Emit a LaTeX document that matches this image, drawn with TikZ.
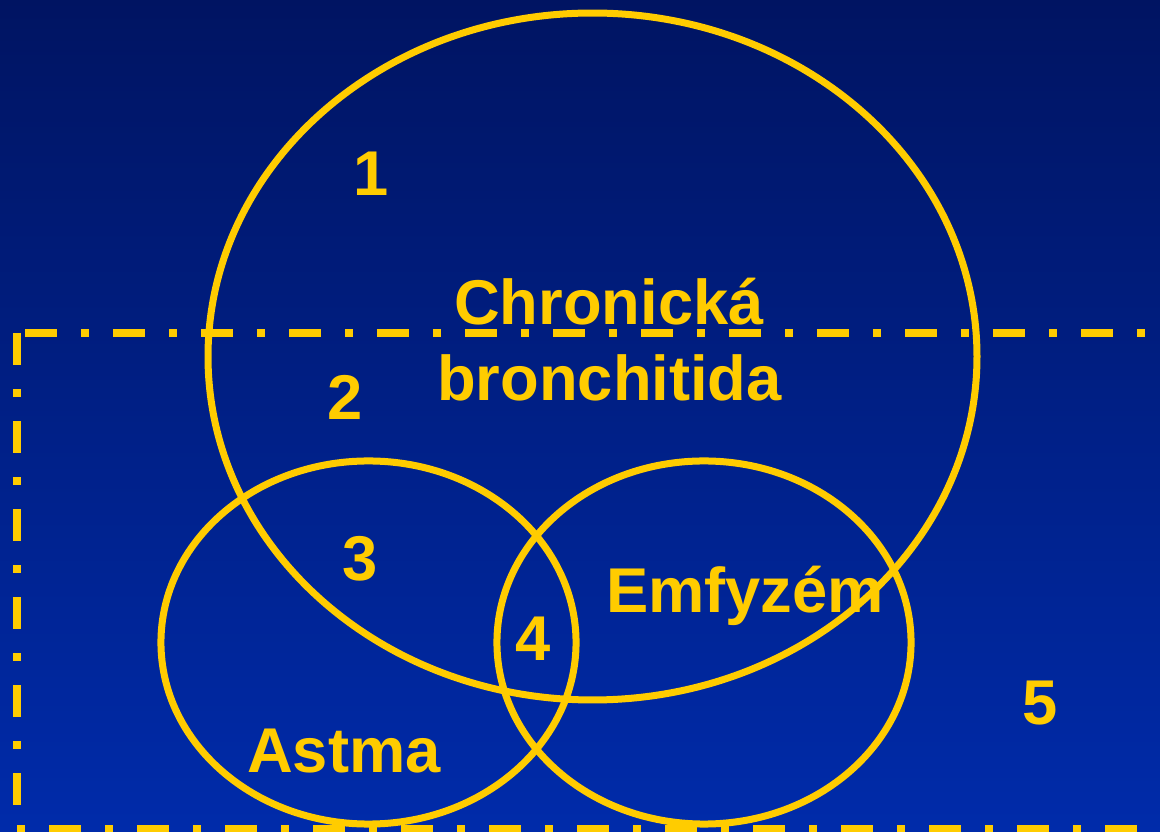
\documentclass[tikz,border=0pt]{standalone}
\usepackage{fontspec}
\setmainfont{Liberation Sans}
\usepackage{xcolor}
\usepackage{tikz}
\usetikzlibrary{shapes.geometric}
\definecolor{slidetop}{HTML}{001462}
\definecolor{slidebottom}{HTML}{002BAA}
\definecolor{vennyellow}{HTML}{FFCC00}
\tikzset{
  vennset/.style={
    ellipse,
    draw=vennyellow,
    line width=0.175cm,
    inner sep=0pt
  },
  vennlabel/.style={
    text=vennyellow,
    font=\fontsize{45}{54}\selectfont\bfseries,
    anchor=base,
    inner sep=0pt
  },
  frameline/.style={
    draw=vennyellow,
    line width=0.2cm,
    dash pattern=on 0.8cm off 0.6cm on 0.2cm off 0.6cm
  }
}

\begin{document}
\begin{tikzpicture}[x=0.025cm, y=-0.025cm]
    \useasboundingbox (0,0) rectangle (1160,832);
    \shade[top color=slidetop, bottom color=slidebottom] (0,0) rectangle (1160,832);
    \clip (0,0) rectangle (1160,832);

    % dash-dot frame, running out of the slide on the right and at the bottom
    \coordinate (frametl) at (17,333);
    \coordinate (framebl) at (17,829);
    \coordinate (framebr) at (1200,829);
    \coordinate (frametr) at (1200,333);
    \draw[frameline] (frametl) -- (framebl) -- (framebr);
    \draw[frameline, dash phase=2cm] (frametl) -- (frametr);

    \node[vennlabel] (region1) at (371,196) {1};
    \node[vennlabel] (region2) at (345,420) {2};
    \node[vennlabel] (region3) at (360,581) {3};
    \node[vennlabel] (region4) at (533,661) {4};
    \node[vennlabel] (region5) at (1040,725) {5};
    \node[vennlabel] (chronicka) at (609,325) {Chronická};
    \node[vennlabel] (bronchitida) at (609.5,401) {bronchitida};
    \node[vennlabel] (astmatext) at (344,773) {Astma};
    \node[vennlabel] (emfyzemtext) at (745,613) {Emfyzém};

    \node[vennset, minimum width=19.22cm, minimum height=17.17cm] (bronchitis) at (592.5,356.5) {};
    \node[vennset, minimum width=10.375cm, minimum height=9.075cm] (astma) at (368.5,642.5) {};
    \node[vennset, minimum width=10.35cm, minimum height=9.075cm] (emfyzem) at (704,642.5) {};
\end{tikzpicture}
\end{document}
